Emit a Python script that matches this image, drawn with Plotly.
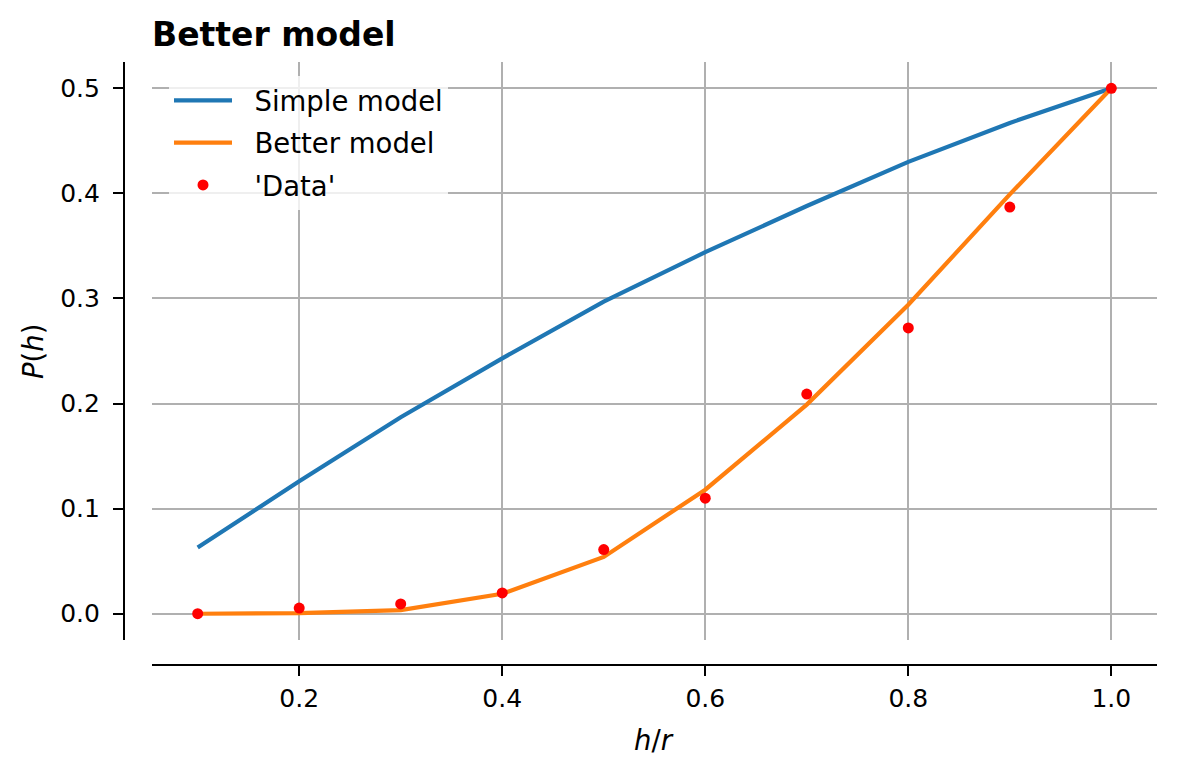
import plotly.graph_objects as go

h_over_r = [0.1, 0.2, 0.3, 0.4, 0.5, 0.6, 0.7, 0.8, 0.9, 1.0]
simple_model = [0.063, 0.126, 0.187, 0.243, 0.297, 0.344, 0.388, 0.430, 0.467, 0.500]
better_model = [0.000, 0.0005, 0.0035, 0.019, 0.054, 0.118, 0.199, 0.294, 0.399, 0.500]
data_points = [0.000, 0.0054, 0.0093, 0.0198, 0.061, 0.110, 0.209, 0.272, 0.387, 0.500]

x_ticks = [0.2, 0.4, 0.6, 0.8, 1.0]
y_ticks = [0.0, 0.1, 0.2, 0.3, 0.4, 0.5]

W, H = 1177, 774
ML, MR, MT, MB = 124, 20, 62, 109
PW, PH = W - ML - MR, H - MT - MB
x_dom0 = (152 - ML) / PW
y_dom0 = (665 - 640) / PH

FONT = "DejaVu Sans"
TICK = 25
LEG = 27.5
PAD = "\u00a0\u00a0"

fig = go.Figure()
fig.add_trace(go.Scatter(x=h_over_r, y=simple_model, mode="lines", name=PAD + "Simple model",
                         legendgroup="a", line=dict(color="#1f77b4", width=4.2)))
fig.add_trace(go.Scatter(x=h_over_r, y=better_model, mode="lines", name=PAD + "Better model",
                         legendgroup="b", line=dict(color="#ff7f0e", width=4.2)))
fig.add_trace(go.Scatter(x=h_over_r, y=data_points, mode="markers", name=PAD + "'Data'",
                         legendgroup="c", marker=dict(color="red", size=11)))

axis_common = dict(
    anchor="free", position=0, tickformat=".1f", ticks="outside", ticklen=10,
    tickwidth=2.2, tickcolor="black", showline=True, linewidth=2.2, linecolor="black",
    showgrid=True, gridcolor="#b0b0b0", gridwidth=2.2, zeroline=False,
    tickfont=dict(family=FONT, size=TICK, color="black"),
)

fig.update_layout(
    width=W, height=H,
    margin=dict(l=ML, r=MR, t=MT, b=MB, autoexpand=False),
    paper_bgcolor="white", plot_bgcolor="white",
    font=dict(family=FONT, size=LEG, color="black"),
    title=dict(text="<b>Better model</b>", x=152 / W, xref="container", xanchor="left",
               y=1 - 34 / H, yref="container", yanchor="middle",
               font=dict(family=FONT, size=33, color="black")),
    xaxis=dict(domain=[x_dom0, 1], range=[0.055, 1.045], tickvals=x_ticks,
               ticklabelstandoff=1, **axis_common),
    yaxis=dict(domain=[y_dom0, 1], range=[-0.025, 0.525], tickvals=y_ticks,
               ticklabelstandoff=8, **axis_common),
    legend=dict(x=(169 - ML) / PW, y=(665 - 76) / PH, xanchor="left", yanchor="top",
                bgcolor="rgba(255,255,255,0.8)", borderwidth=0, itemwidth=58,
                font=dict(family=FONT, size=LEG), tracegroupgap=3.5),
    showlegend=True,
)

fig.add_annotation(text="<i>P</i>(<i>h</i>)", xref="paper", yref="paper",
                   x=(33 - ML) / PW, y=(665 - 351) / PH, textangle=-90, showarrow=False,
                   xanchor="center", yanchor="middle", font=dict(family=FONT, size=LEG))
fig.add_annotation(text="<i>h</i>/<i>r</i>", xref="paper", yref="paper",
                   x=(654 - ML) / PW, y=(665 - 740) / PH, showarrow=False,
                   xanchor="center", yanchor="middle", font=dict(family=FONT, size=LEG))

fig.write_html("out.html", config={"displayModeBar": False},
               post_script="document.body.style.margin='0';")
